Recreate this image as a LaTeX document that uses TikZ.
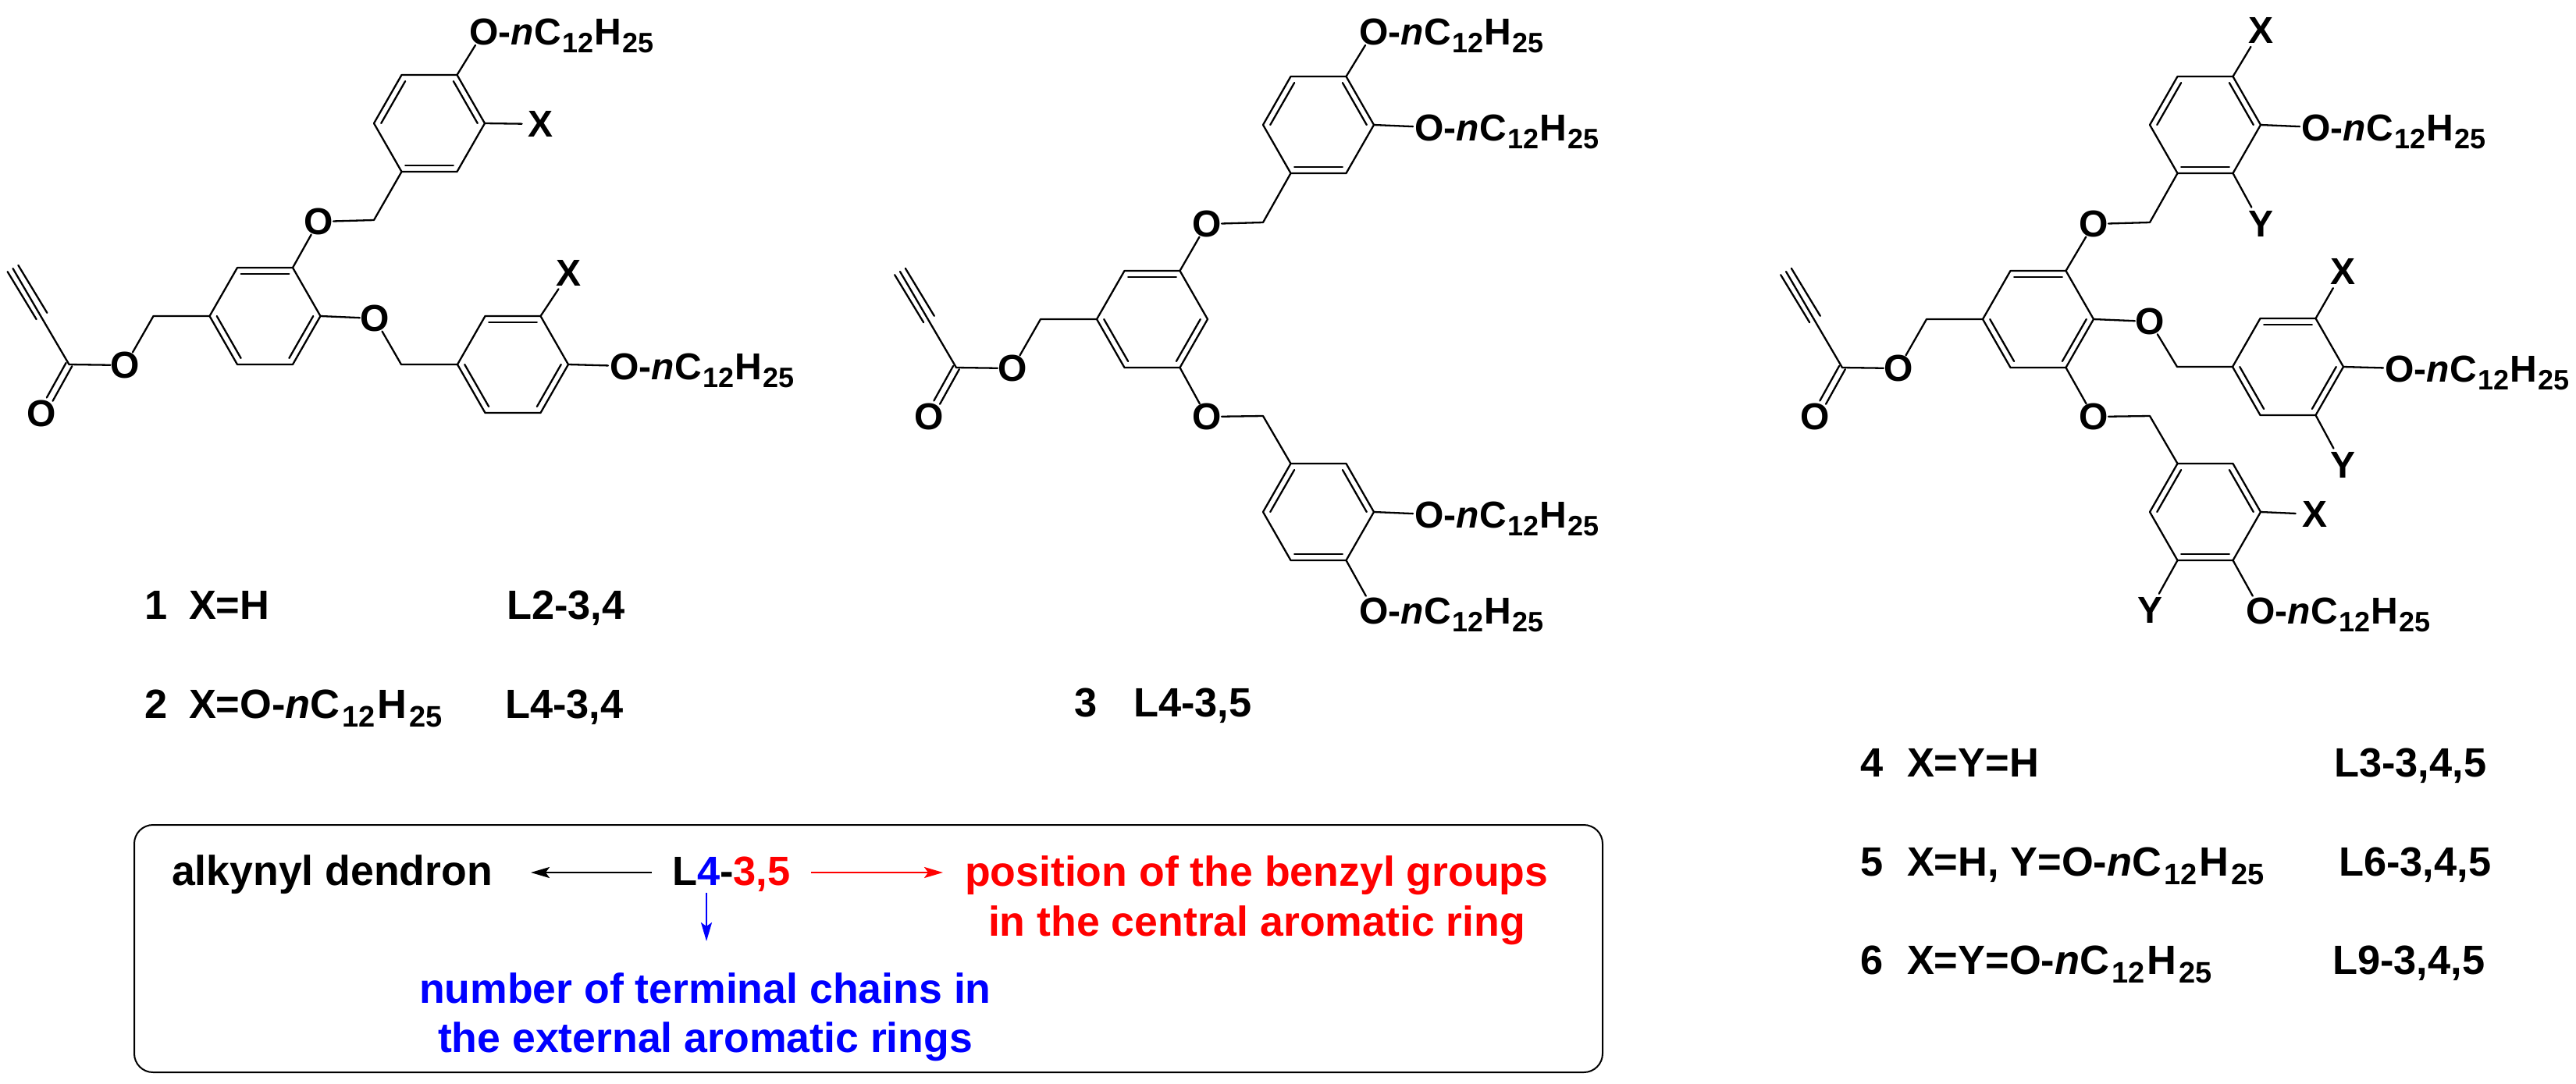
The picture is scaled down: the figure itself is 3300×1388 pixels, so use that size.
\documentclass[tikz,border=0pt]{standalone}
\usepackage{fontspec}
\setmainfont{Liberation Sans}
\usetikzlibrary{calc,arrows.meta}
\newcommand\sbsA[1]{\kern.03em\raisebox{-5.2pt}{\fontsize{18}{18}\selectfont #1}\kern.03em}
\newcommand\sbsB[1]{\kern.06em\raisebox{-5.8pt}{\fontsize{19}{19}\selectfont #1}\kern.05em}
\newcommand\chainA{\fontsize{24}{24}\selectfont O-\textit{n}C\sbsA{12}H\sbsA{25}}
\newcommand\chainB{O-\textit{n}C\sbsB{12}H\sbsB{25}}
\tikzset{
  bond/.style={line width=1.15pt,line join=round,line cap=round},
  tobond/.style={bond,shorten >=10.5pt},
  atom/.style={circle,inner sep=-2.2pt,outer sep=0pt,font=\fontsize{24}{24}\selectfont\bfseries},
  xyatom/.style={circle,inner sep=.5pt,outer sep=0pt,font=\fontsize{24}{24}\selectfont\bfseries},
  chain/.style={inner sep=0pt,outer sep=0pt,anchor=base west,font=\bfseries},
  lab/.style={inner sep=0pt,outer sep=0pt,anchor=base west,font=\fontsize{26.2}{30}\selectfont\bfseries},
  leg/.style={inner sep=0pt,outer sep=0pt,anchor=base west,font=\fontsize{26.8}{30}\selectfont\bfseries},
  boxframe/.style={draw=black,line width=1pt,rounded corners=12pt},
  arr/.style={line width=1.2pt,-{Stealth[length=12pt,width=7pt,inset=2.5pt]}},
}
% ring: 1 left, 2 upper-left, 3 upper-right, 4 right, 5 lower-right, 6 lower-left
\newcommand\ring[3]{%
  \coordinate (#10) at (#2,#3);
  \coordinate (#11) at ($(#10)+(-71,0)$);
  \coordinate (#12) at ($(#10)+(-35.5,-62)$);
  \coordinate (#13) at ($(#10)+(35.5,-62)$);
  \coordinate (#14) at ($(#10)+(71,0)$);
  \coordinate (#15) at ($(#10)+(35.5,62)$);
  \coordinate (#16) at ($(#10)+(-35.5,62)$);
  \draw[bond] (#11)--(#12)--(#13)--(#14)--(#15)--(#16)--cycle;}
\newcommand\dbl[3]{\draw[bond] ($(#1#2)!.13!(#10)$)--($(#1#3)!.13!(#10)$);}
\newcommand\dblset[1]{\dbl{#1}{2}{3}\dbl{#1}{4}{5}\dbl{#1}{6}{1}}
\newcommand\dblalt[1]{\dbl{#1}{5}{6}\dbl{#1}{3}{4}\dbl{#1}{1}{2}}
% propargyl ester on ring vertex #1
\newcommand\ester[1]{%
  \coordinate (#1ch) at ($(#11)+(-72,0)$);
  \node[atom] (#1oe) at ($(#11)+(-108,63)$) {O};
  \coordinate (#1c) at ($(#11)+(-180,62)$);
  \node[atom] (#1oc) at ($(#11)+(-215,125)$) {O};
  \coordinate (#1m) at ($(#11)+(-215,0)$);
  \coordinate (#1t) at ($(#11)+(-252,-61)$);
  \draw[bond] (#11)--(#1ch)--(#1oe);
  \draw[bond] (#1oe)--(#1c)--(#1t);
  \draw[tobond] ($(#1c)!2.2pt!90:(#1oc)$)--($(#1oc)!2.2pt!-90:(#1c)$);
  \draw[tobond] ($(#1c)!2.2pt!-90:(#1oc)$)--($(#1oc)!2.2pt!90:(#1c)$);
  \draw[bond] ($(#1m)!4pt!90:(#1t)$)--($(#1t)!4pt!-90:(#1m)$);
  \draw[bond] ($(#1m)!4pt!-90:(#1t)$)--($(#1t)!4pt!90:(#1m)$);}
% benzyl ether link: from ring vertex #1 via O at (#3) and CH2 at (#4) to ring vertex #2
\newcommand\link[5]{%
  \node[atom] (#5o) at (#3) {O};
  \coordinate (#5ch) at (#4);
  \draw[bond] (#1)--(#5o);
  \draw[bond] (#5o)--(#5ch)--(#2);}
% O-chain: from vertex #1, O centre at (#2), node name #3
\newcommand\ochain[3]{%
  \coordinate (#3o) at (#2);
  \node[chain] (#3) at ($(#3o)+(-18.5,17)$) {\chainA};
  \draw[tobond] (#1)--(#3o);}
\begin{document}
\begin{tikzpicture}[x=0.5pt,y=-0.5pt]
\useasboundingbox (0,0) rectangle (3300,1388);
% ---------- compound 1/2 ----------
\ring{A}{339.5}{405}\dblset{A}
\ring{B}{550}{158}\dblalt{B}
\ring{C}{657}{467}\dblset{C}
\ester{A}
\link{A3}{B6}{408,284}{479,282}{lb}
\link{A4}{C1}{480,408}{514,467}{lc}
\node[xyatom] (x1) at (693,159) {X};
\draw[bond] (B4)--(x1);
\ochain{B3}{620,40}{t1}
\node[xyatom] (x2) at (729,350) {X};
\draw[bond] (C3)--(x2);
\ochain{C4}{800,469}{t2}
% ---------- compound 3 ----------
\ring{D}{1476}{409}\dblset{D}
\ring{E}{1689}{160}\dblalt{E}
\ring{F}{1689}{656}
\dbl{F}{3}{4}\dbl{F}{5}{6}\dbl{F}{1}{2}
\ester{D}
\link{D3}{E6}{1546,287}{1618,285}{le}
\link{D5}{F2}{1546,534}{1618,533}{lf}
\ochain{E3}{1760,40}{t3}
\ochain{E4}{1831,163}{t4}
\ochain{F4}{1831,659}{t5}
\ochain{F5}{1760,782}{t6}
% ---------- compounds 4-6 ----------
\ring{G}{2611}{409}\dblset{G}
\ring{H}{2825}{160}\dblalt{H}
\ring{I}{2931}{470}\dblset{I}
\ring{J}{2825}{656}
\dbl{J}{3}{4}\dbl{J}{5}{6}\dbl{J}{1}{2}
\ester{G}
\link{G3}{H6}{2682,287}{2754,285}{lh}
\link{G4}{I1}{2754,412}{2789,470}{li}
\link{G5}{J2}{2682,534}{2754,533}{lj}
\node[xyatom] (x3) at (2896,39) {X};   \draw[bond] (H3)--(x3);
\node[xyatom] (y3) at (2896,287) {Y};  \draw[bond] (H5)--(y3);
\ochain{H4}{2967,163}{t7}
\node[xyatom] (x4) at (3001,348) {X};  \draw[bond] (I3)--(x4);
\node[xyatom] (y4) at (3001,596) {Y};  \draw[bond] (I5)--(y4);
\ochain{I4}{3074,472}{t8}
\node[xyatom] (x5) at (2965,659) {X};  \draw[bond] (J4)--(x5);
\node[xyatom] (y5) at (2754,782) {Y};  \draw[bond] (J6)--(y5);
\ochain{J5}{2896,782}{t9}
% ---------- captions ----------
\node[lab] (n1) at (185,793) {1};
\node[lab] (f1) at (242,793) {X=H};
\node[lab] (l1) at (649,793) {L2-3,4};
\node[lab] (n2) at (185,920) {2};
\node[lab] (f2) at (242,920) {X=\chainB};
\node[lab] (l2) at (647,920) {L4-3,4};
\node[lab] (n3) at (1376,918) {3};
\node[lab] (l3) at (1452,918) {L4-3,5};
\node[lab] (n4) at (2383,995) {4};
\node[lab] (f4) at (2443,995) {X=Y=H};
\node[lab] (l4) at (2990,995) {L3-3,4,5};
\node[lab] (n5) at (2383,1122) {5};
\node[lab] (f5) at (2443,1122) {X=H, Y=\chainB};
\node[lab] (l5) at (2996,1122) {L6-3,4,5};
\node[lab] (n6) at (2383,1248) {6};
\node[lab] (f6) at (2443,1248) {X=Y=\chainB};
\node[lab] (l6) at (2988,1248) {L9-3,4,5};
% ---------- legend ----------
\draw[boxframe] (172,1057) rectangle (2053,1374);
\node[leg] (alk) at (220,1134) {alkynyl dendron};
\node[lab] (code) at (861,1134) {L\textcolor{blue}{4}-\textcolor{red}{3,5}};
\node[leg,text=red] (pos1) at (1236,1135) {position of the benzyl groups};
\node[leg,text=red] (pos2) at (1266,1199) {in the central aromatic ring};
\node[leg,text=blue] (num1) at (537,1285) {number of terminal chains in};
\node[leg,text=blue] (num2) at (561,1348) {the external aromatic rings};
\coordinate (k0) at (835,1118); \coordinate (k1) at (680,1118);
\coordinate (r0) at (1039,1118); \coordinate (r1) at (1208,1118);
\coordinate (b0) at (905,1144); \coordinate (b1) at (905,1206);
\draw[arr,draw=black,fill=black] (k0)--(k1);
\draw[arr,draw=red,fill=red] (r0)--(r1);
\draw[arr,draw=blue,fill=blue] (b0)--(b1);
\end{tikzpicture}
\end{document}
